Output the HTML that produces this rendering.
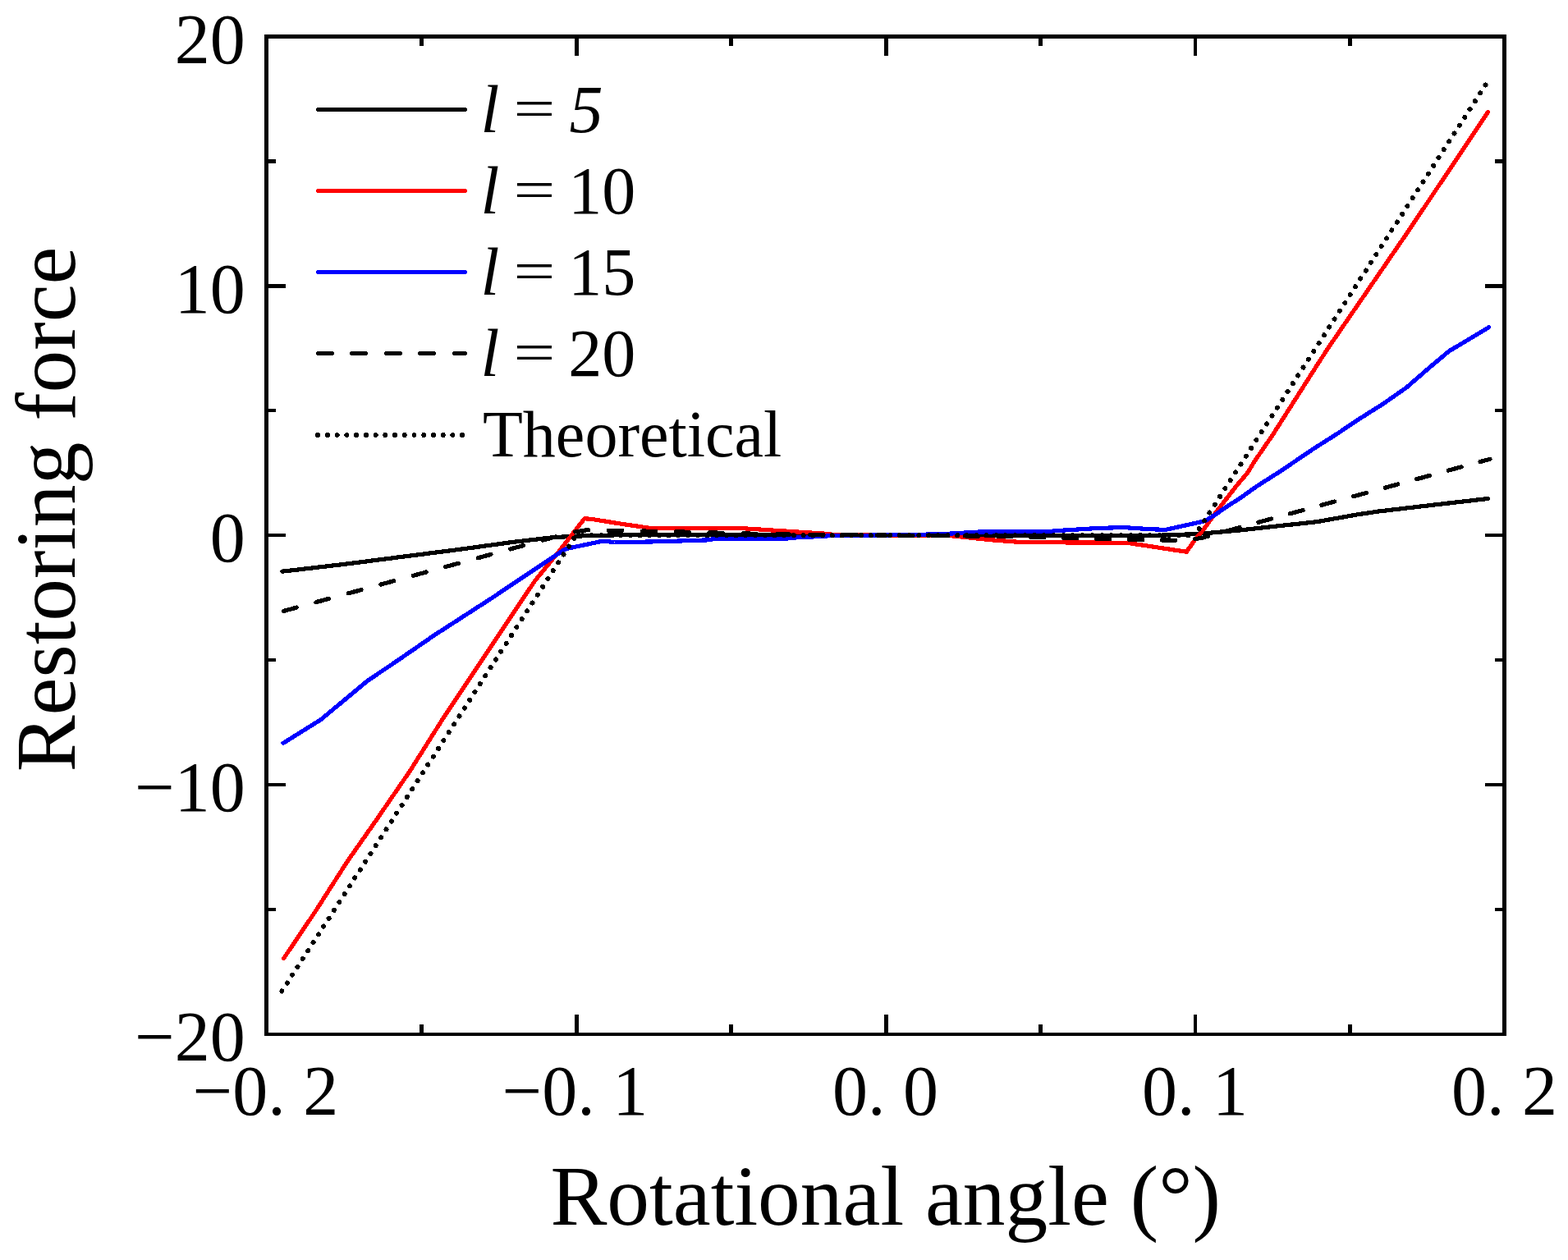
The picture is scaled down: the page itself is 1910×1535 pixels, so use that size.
<!DOCTYPE html>
<html><head><meta charset="utf-8"><title>Restoring force vs rotational angle</title>
<style>
html,body{margin:0;padding:0;background:#fff;}
body{width:1910px;height:1535px;overflow:hidden;}
svg{display:block;}
text{font-family:"Liberation Serif","Times New Roman",serif;fill:#000;}
</style></head>
<body>
<svg width="1910" height="1535" viewBox="0 0 1910 1535">
<rect width="1910" height="1535" fill="#fff"/>
<!-- data curves -->
<g fill="none" stroke-linejoin="round" shape-rendering="crispEdges">
<polyline points="343.8,696.2 420,687.3 560,669.3 622.7,660.7 669.8,655.1 698,653.2 760,651.6 830,651.4 900,652 1000,652.2 1079.3,652.1 1160,652.3 1260,652.6 1330,652.8 1400,652.6 1440,651.3 1470.6,649.5 1508.4,646.2 1605.3,635.5 1653.7,626.8 1680,622.9 1750.6,614.6 1812.5,607.5" stroke="#000" stroke-width="5.2" stroke-linecap="round"/>
<polyline points="345.8,1167.3 383.6,1111.2 422.8,1049.9 457.8,999.9 499.3,939.4 540.9,873.3 574.9,822.3 616.4,760 652.1,706.9 680.3,672.5 712,631.7 722,632.6 752.8,637.6 790.5,643.2 898.9,643.3 1005.4,650.2 1020,652 1150,652.2 1161.5,653 1208.7,657.9 1246.1,660.7 1372.4,661.2 1445.3,672.3 1455.2,658.2 1467.7,642.8 1480.9,624.5 1493.3,608.4 1506.5,591.5 1519,576.9 1528.5,561.5 1550,530.3 1607.4,440 1620,420.8 1715.7,281.3 1812.7,136.4" stroke="#ff0000" stroke-width="5.2" stroke-linecap="round"/>
<polyline points="345,905.3 390.8,876.7 448,829.1 478,809 530,773.2 600,728 680.9,673.8 689.3,668.6 734,659.2 748.5,660.5 767,660.5 810,659.6 861.5,657.9 871.4,656.3 956,656.3 972.5,654.6 1001,653.5 1014,652.4 1079,652 1145,650.8 1193.4,648 1277,647.5 1293.4,646.2 1335,643.6 1368,642.5 1401,644.7 1420,645.4 1449.3,638.8 1467.7,634.8 1478.6,628.2 1493.3,617.9 1511.6,606.2 1530,593 1560,573.9 1600,546.7 1628.3,528.8 1656.5,509.9 1684.8,492 1713.1,472.2 1741.4,447.7 1764.9,427.9 1779.1,419.4 1813.5,398.8" stroke="#0000ff" stroke-width="5.2" stroke-linecap="round"/>
<polyline points="343.7,744.9 627,667.5 680,653 694.4,648.9 714.5,645.8 757,646.5 830,648 950,651 1079.3,652.1" stroke="#000" stroke-width="5.2" stroke-linecap="round" stroke-dasharray="16.3 24.6" stroke-dashoffset="39.1"/>
<polyline points="1814.9,559.3 1531.6,636.7 1478.6,651.2 1464.2,655.3 1444.1,658.4 1401.6,657.7 1328.6,656.2 1208.6,653.2 1079.3,652.1" stroke="#000" stroke-width="5.2" stroke-linecap="round" stroke-dasharray="16.3 23.7" stroke-dashoffset="3.85"/>
<polyline points="343.4,1207.4 701.5,652.2 1455.5,652.2" stroke="#000" stroke-width="6" stroke-linecap="round" stroke-dasharray="0.01 11.713"/>
<polyline points="1455.5,652.2 1813.7,97.1" stroke="#000" stroke-width="6" stroke-linecap="round" stroke-dasharray="0.01 11.69" stroke-dashoffset="2.2"/>
</g>
<!-- frame -->
<g fill="#000">
<rect x="322" y="42" width="1513" height="5"/>
<rect x="322" y="1258" width="1513" height="4"/>
<rect x="322" y="42" width="5" height="1220"/>
<rect x="1830" y="42" width="5" height="1220"/>
<rect x="511" y="1248" width="5" height="10"/><rect x="511" y="47" width="5" height="9"/><rect x="700" y="1236" width="5" height="22"/><rect x="700" y="47" width="5" height="21"/><rect x="888" y="1248" width="5" height="10"/><rect x="888" y="47" width="5" height="9"/><rect x="1077" y="1236" width="5" height="22"/><rect x="1077" y="47" width="5" height="21"/><rect x="1265" y="1248" width="5" height="10"/><rect x="1265" y="47" width="5" height="9"/><rect x="1454" y="1236" width="4" height="22"/><rect x="1454" y="47" width="4" height="21"/><rect x="1642" y="1248" width="5" height="10"/><rect x="1642" y="47" width="5" height="9"/><rect x="327" y="194" width="9" height="5"/><rect x="1821" y="194" width="9" height="5"/><rect x="327" y="346" width="21" height="5"/><rect x="1809" y="346" width="21" height="5"/><rect x="327" y="498" width="9" height="4"/><rect x="1821" y="498" width="9" height="4"/><rect x="327" y="650" width="21" height="4"/><rect x="1809" y="650" width="21" height="4"/><rect x="327" y="802" width="9" height="4"/><rect x="1821" y="802" width="9" height="4"/><rect x="327" y="954" width="21" height="4"/><rect x="1809" y="954" width="21" height="4"/><rect x="327" y="1106" width="9" height="4"/><rect x="1821" y="1106" width="9" height="4"/>
</g>
<!-- legend -->
<g fill="none" stroke-linecap="round" shape-rendering="crispEdges">
<line x1="387.5" y1="133.5" x2="567" y2="133.5" stroke="#000" stroke-width="4.8"/>
<line x1="387.5" y1="232.5" x2="567" y2="232.5" stroke="#ff0000" stroke-width="4.8"/>
<line x1="387.5" y1="331.5" x2="567" y2="331.5" stroke="#0000ff" stroke-width="4.8"/>
<line x1="387" y1="430.5" x2="567" y2="430.5" stroke="#000" stroke-width="4.8" stroke-dasharray="17.5 24"/>
<line x1="387.2" y1="530" x2="567" y2="530" stroke="#000" stroke-width="6" stroke-dasharray="0.01 11.72"/>
</g>
<g font-size="82">
<text x="585.5" y="160.5" font-style="italic">l</text>
<text x="693.4" y="160.5" font-style="italic">5</text>
<text x="585.5" y="259.5" font-style="italic">l</text>
<text x="692.3" y="259.5">10</text>
<text x="585.5" y="358.5" font-style="italic">l</text>
<text x="692.3" y="358.5">15</text>
<text x="585.5" y="457.5" font-style="italic">l</text>
<text x="692.3" y="457.5">20</text>
<text transform="matrix(1.1006,0,0,0.834,625.6,155.2)">=</text>
<text transform="matrix(1.1006,0,0,0.834,625.6,254.2)">=</text>
<text transform="matrix(1.1006,0,0,0.834,625.6,353.2)">=</text>
<text transform="matrix(1.1006,0,0,0.834,625.6,452.2)">=</text>
<text x="588" y="556" font-size="80">Theoretical</text>
</g>
<!-- tick labels -->
<g font-size="86" text-anchor="end">
<text x="298.8" y="76.8">20</text>
<text x="298.8" y="380.8">10</text>
<text x="298.8" y="683.8">0</text>
<text x="298.8" y="987.75">&#8722;10</text>
<text x="298.8" y="1291.8">&#8722;20</text>
</g>
<g font-size="86" text-anchor="middle">
<text x="323.5" y="1357.6">&#8722;0. 2</text>
<text x="700.5" y="1357.6">&#8722;0. 1</text>
<text x="1078.5" y="1357.6">0. 0</text>
<text x="1455.5" y="1357.6">0. 1</text>
<text x="1832.5" y="1357.6">0. 2</text>
</g>
<!-- axis titles -->
<text x="670.4" y="1491.9" font-size="103.4">Rotational angle (°)</text>
<text transform="translate(91.1,940.3) rotate(-90)" x="0" y="0" font-size="103.3">Restoring force</text>
</svg>
</body></html>
